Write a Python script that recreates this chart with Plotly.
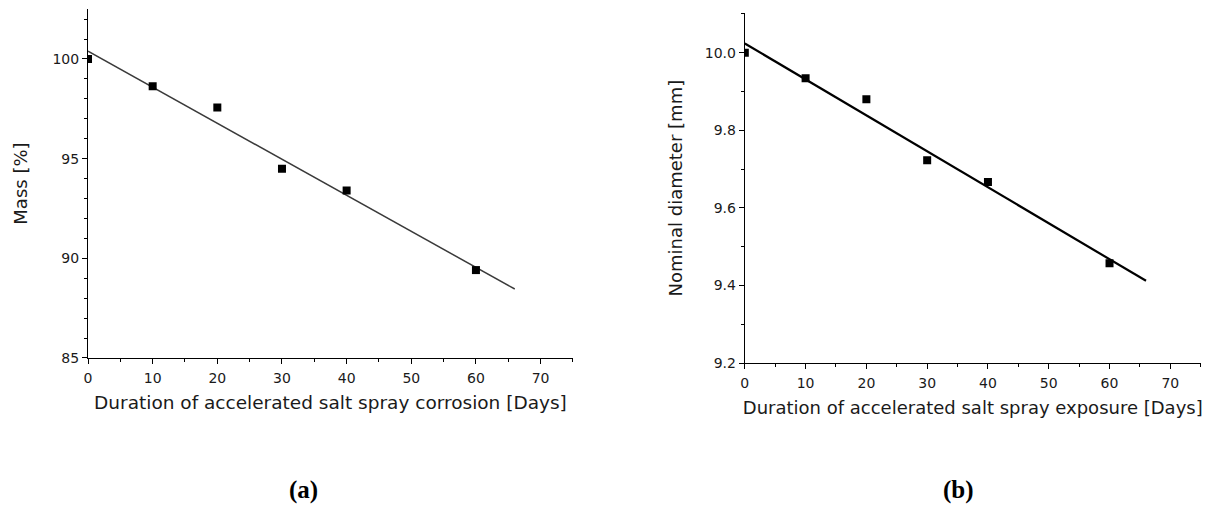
import plotly.graph_objects as go

# Panel (a): mass
days_a = [0, 10, 20, 30, 40, 60]
mass = [100.0, 98.63, 97.57, 94.49, 93.40, 89.41]
fit_a_x = [0, 66]
fit_a_y = [100.39, 88.46]

# Panel (b): nominal diameter
days_b = [0, 10, 20, 30, 40, 60]
diam = [10.0, 9.934, 9.880, 9.723, 9.667, 9.457]
fit_b_x = [0, 66]
fit_b_y = [10.024, 9.412]

x_ticks = [0, 10, 20, 30, 40, 50, 60, 70]
ya_ticks = [85, 90, 95, 100]
yb_ticks = [9.2, 9.4, 9.6, 9.8, 10.0]
yb_labels = ["9.2", "9.4", "9.6", "9.8", "10.0"]

W, H = 1219, 508

fig = go.Figure()
fig.add_trace(go.Scatter(x=fit_a_x, y=fit_a_y, mode="lines",
                         line=dict(color="#3a3a3a", width=1.5),
                         xaxis="x", yaxis="y", showlegend=False))
fig.add_trace(go.Scatter(x=days_a, y=mass, mode="markers",
                         marker=dict(symbol="square", size=8, color="black"),
                         xaxis="x", yaxis="y", showlegend=False))
fig.add_trace(go.Scatter(x=fit_b_x, y=fit_b_y, mode="lines",
                         line=dict(color="black", width=2.2),
                         xaxis="x2", yaxis="y2", showlegend=False))
fig.add_trace(go.Scatter(x=days_b, y=diam, mode="markers",
                         marker=dict(symbol="square", size=8, color="black"),
                         xaxis="x2", yaxis="y2", showlegend=False))

tickfont = dict(family="DejaVu Sans", size=14, color="#1a1a1a")
titlefont = dict(family="DejaVu Sans", size=18, color="#1a1a1a")

common = dict(showgrid=False, zeroline=False, automargin=False,
              showline=True, linecolor="black", linewidth=1.2,
              ticks="outside", ticklen=5, tickwidth=1.2, tickcolor="black",
              tickfont=tickfont, fixedrange=True)

fig.update_layout(
    width=W, height=H,
    margin=dict(l=0, r=0, t=0, b=0),
    paper_bgcolor="white", plot_bgcolor="white",
    xaxis=dict(common, domain=[0.0722, 0.470], anchor="y",
               range=[0, 75], tickvals=x_ticks, ticklabelstandoff=2,
               minor=dict(dtick=5, ticks="outside", ticklen=3, tickcolor="black", tickwidth=1),
               title=dict(text="Duration of accelerated salt spray corrosion [Days]",
                          font=dict(titlefont, size=18.5), standoff=11)),
    yaxis=dict(common, domain=[0.2953, 0.982], anchor="x", range=[85, 102.5],
               tickvals=ya_ticks,
               minor=dict(dtick=1, ticks="outside", ticklen=3, tickcolor="black", tickwidth=1),
               title=dict(text="Mass [%]", font=titlefont, standoff=20)),
    xaxis2=dict(common, domain=[0.611, 0.985], anchor="y2",
                range=[0, 75], tickvals=x_ticks, ticklabelstandoff=2,
                minor=dict(dtick=5, ticks="outside", ticklen=3, tickcolor="black", tickwidth=1),
                title=dict(text="Duration of accelerated salt spray exposure [Days]",
                           font=titlefont, standoff=11)),
    yaxis2=dict(common, domain=[0.2854, 0.974], anchor="x2", range=[9.2, 10.102],
                tickvals=yb_ticks, ticktext=yb_labels,
                minor=dict(dtick=0.1, tick0=9.2, ticks="outside", ticklen=3, tickcolor="black", tickwidth=1),
                title=dict(text="Nominal diameter [mm]", font=titlefont, standoff=17)),
    annotations=[
        dict(text="<b>(a)</b>", x=303 / W, y=1 - 490 / H, xref="paper", yref="paper",
             xanchor="center", yanchor="middle", showarrow=False,
             font=dict(family="Liberation Serif", size=25, color="black")),
        dict(text="<b>(b)</b>", x=958 / W, y=1 - 490 / H, xref="paper", yref="paper",
             xanchor="center", yanchor="middle", showarrow=False,
             font=dict(family="Liberation Serif", size=25, color="black")),
    ],
)

fig.write_html("out.html")
